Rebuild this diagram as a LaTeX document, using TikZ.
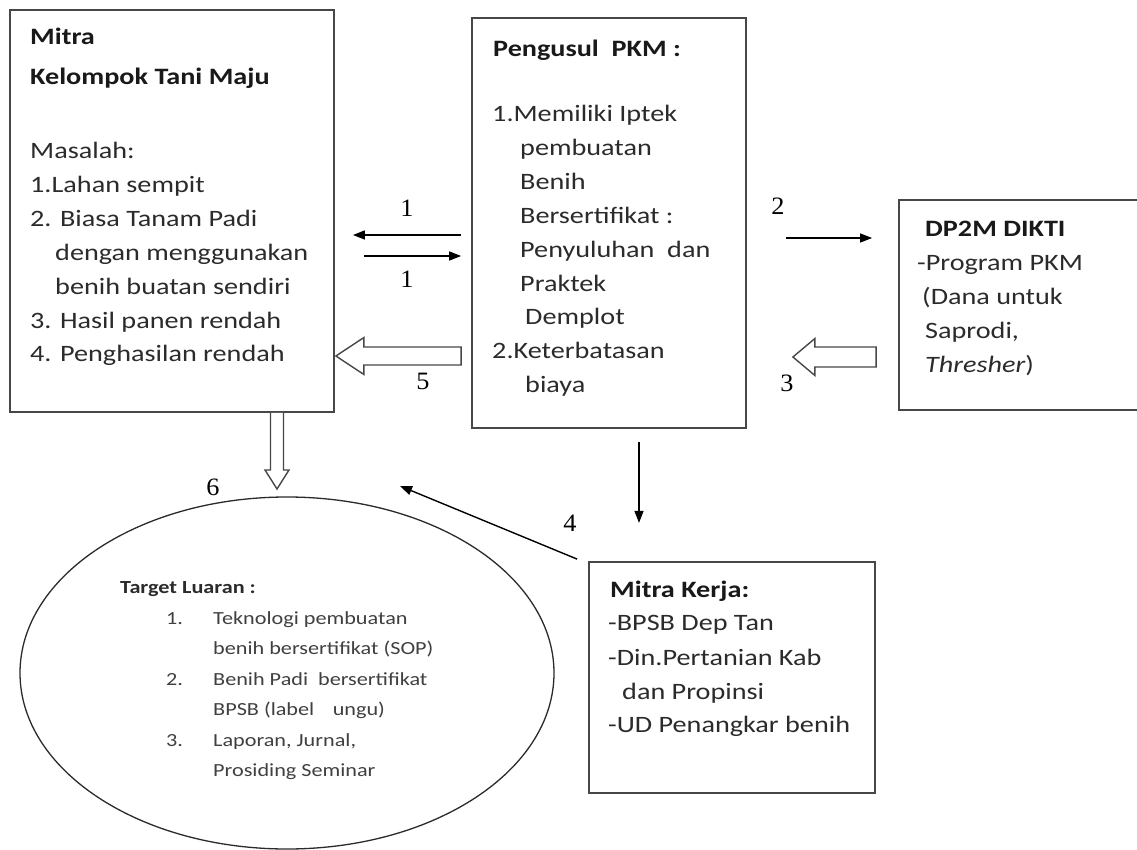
\documentclass[tikz,border=0pt]{standalone}
\usepackage{fontspec}
\usetikzlibrary{arrows.meta,calc,shapes.geometric}
\newfontfamily\cf{Carlito}[FakeStretch=1.2]
\newfontfamily\nf{Liberation Serif}[FakeStretch=1.05]
\newcommand\bxf{\cf\fontsize{23.5}{34}\selectfont}
\newcommand\elf{\cf\fontsize{18.5}{30}\selectfont}
\newcommand\nmf{\nf\fontsize{25}{30}\selectfont}
\definecolor{ink}{HTML}{2B2B2B}
\definecolor{frame}{HTML}{474747}
\begin{document}
\begin{tikzpicture}[x=1pt,y=-1pt,
  box/.style={draw=frame, line width=1.8pt, rectangle, inner sep=0pt},
  txt/.style={font=\bxf, text=ink, inner sep=0pt, anchor=base west},
  btxt/.style={font=\bxf\bfseries, text=black!90, inner sep=0pt, anchor=base west},
  etxt/.style={font=\elf, text=ink!90, inner sep=0pt, anchor=base west},
  ebtxt/.style={font=\elf\bfseries, text=ink, inner sep=0pt, anchor=base west},
  num/.style={font=\nmf, text=black, inner sep=0pt},
  con/.style={line width=1.4pt, -{Triangle[length=12pt,width=9pt]}},
  hollow/.style={draw=frame, line width=1.4pt, fill=white, line join=miter}]
\useasboundingbox (0,0) rectangle (1137,850);
\fill[white] (0,0) rectangle (1137,850);

% boxes
\node[box, minimum width=324pt, minimum height=402pt] (mitra) at (172,211) {};
\node[box, minimum width=274pt, minimum height=410pt] (pk) at (609,223) {};
\node[box, minimum width=246pt, minimum height=210pt] (dp) at (1022,305) {};
\node[box, minimum width=286pt, minimum height=231pt] (mk) at (732,677.5) {};
\node[draw=ink, line width=1.3pt, ellipse, minimum width=534pt, minimum height=352pt, inner sep=0pt] (out) at (287,673) {};

% left box text
\node[btxt] (m1) at (30,45) {Mitra};
\node[btxt] (m2) at (30,85) {Kelompok Tani Maju};
\node[txt] (m3) at (30,159) {Masalah:};
\node[txt] (m4) at (30,192.8) {1.Lahan sempit};
\node[txt] (m5) at (30,226.6) {2. Biasa Tanam Padi};
\node[txt] (m6) at (55,260.4) {dengan menggunakan};
\node[txt] (m7) at (55,294.2) {benih buatan sendiri};
\node[txt] (m8) at (30,328) {3. Hasil panen rendah};
\node[txt] (m9) at (30,361.8) {4. Penghasilan rendah};

% center box text
\node[btxt] (p0) at (493,57) {Pengusul\ \ PKM :};
\node[txt] (p1) at (492,122) {1.Memiliki Iptek};
\node[txt] (p2) at (520,155.8) {pembuatan};
\node[txt] (p3) at (520,189.6) {Benih};
\node[txt] (p4) at (520,223.4) {Bersertifikat :};
\node[txt] (p5) at (520,257.2) {Penyuluhan\ \ dan};
\node[txt] (p6) at (520,291) {Praktek};
\node[txt] (p7) at (525,324.8) {Demplot};
\node[txt] (p8) at (492,358.6) {2.Keterbatasan};
\node[txt] (p9) at (525,392.4) {biaya};

% DP2M box text
\node[btxt] (d0) at (925,237) {DP2M DIKTI};
\node[txt] (d1) at (917,270.5) {-Program PKM};
\node[txt] (d2) at (922,304.5) {(Dana untuk};
\node[txt] (d3) at (925,338.5) {Saprodi,};
\node[txt] (d4) at (925,372) {\textit{Thresher})};

% Mitra Kerja text
\node[btxt] (k0) at (610,597) {Mitra Kerja:};
\node[txt] (k1) at (608,630.5) {-BPSB Dep Tan};
\node[txt] (k2) at (608,665) {-Din.Pertanian Kab};
\node[txt] (k3) at (622,699) {dan Propinsi};
\node[txt] (k4) at (608,732) {-UD Penangkar benih};

% ellipse text
\node[ebtxt] (e0) at (120,593) {Target Luaran :};
\node[etxt] (e1n) at (166,624) {1.};
\node[etxt] (e1a) at (213,624) {Teknologi pembuatan};
\node[etxt] (e1b) at (213,654.5) {benih bersertifikat (SOP)};
\node[etxt] (e2n) at (166,685) {2.};
\node[etxt] (e2a) at (213,685) {Benih Padi\ \ bersertifikat};
\node[etxt] (e2b) at (213,715.5) {BPSB (label\quad ungu)};
\node[etxt] (e3n) at (166,746) {3.};
\node[etxt] (e3a) at (213,746) {Laporan, Jurnal,};
\node[etxt] (e3b) at (213,776.5) {Prosiding Seminar};

% thin connectors
\draw[con] ($(pk.west |- 0,235)+(-10,0)$) -- ($(mitra.east |- 0,235)+(18,0)$);
\draw[con] ($(mitra.east |- 0,256)+(29,0)$) -- ($(pk.west |- 0,256)+(-10,0)$);
\draw[con] ($(pk.east |- 0,238)+(39,0)$) -- ($(dp.west |- 0,238)+(-26,0)$);
\draw[con] ($(pk.south)+(30,13)$) -- ($(pk.south)+(30,94)$);
\coordinate (a4end) at (400,486);
\draw[con] ($(mk.north west)+(-11,-2)$) -- (a4end);

% hollow arrows
\coordinate (t5) at ($(pk.west |- 0,356)+(-10,0)$);
\coordinate (h5) at ($(mitra.east |- 0,356)+(1,0)$);
\draw[hollow] let \p1=(t5), \p2=(h5) in
  (\x1,\y1+9pt) -- (\x2+28pt,\y1+9pt) -- (\x2+28pt,\y1+18.5pt) -- (\x2,\y2)
  -- (\x2+28pt,\y1-18.5pt) -- (\x2+28pt,\y1-9pt) -- (\x1,\y1-9pt) -- cycle;

\coordinate (t3) at ($(dp.west |- 0,357)+(-22,0)$);
\coordinate (h3) at ($(pk.east |- 0,357)+(46,0)$);
\draw[hollow] let \p1=(t3), \p2=(h3) in
  (\x1,\y1+10pt) -- (\x2+22pt,\y1+10pt) -- (\x2+22pt,\y1+18.5pt) -- (\x2,\y2)
  -- (\x2+22pt,\y1-18.5pt) -- (\x2+22pt,\y1-10pt) -- (\x1,\y1-10pt) -- cycle;

\coordinate (t6) at (mitra.south -| 277,0);
\coordinate (h6) at (277,489);
\draw[hollow] let \p1=(t6), \p2=(h6) in
  (\x1-6.5pt,\y1) -- (\x1-6.5pt,\y2+19pt) -- (\x1-12pt,\y2+19pt) -- (\x2,\y2)
  -- (\x1+12pt,\y2+19pt) -- (\x1+6.5pt,\y2+19pt) -- (\x1+6.5pt,\y1);

% number labels
\node[num] (n1a) at (407,208) {1};
\node[num] (n1b) at (407,279) {1};
\node[num] (n2) at (778,206) {2};
\node[num] (n3) at (787,383) {3};
\node[num] (n4) at (570,523) {4};
\node[num] (n5) at (423,381) {5};
\node[num] (n6) at (213,487) {6};
\end{tikzpicture}
\end{document}
